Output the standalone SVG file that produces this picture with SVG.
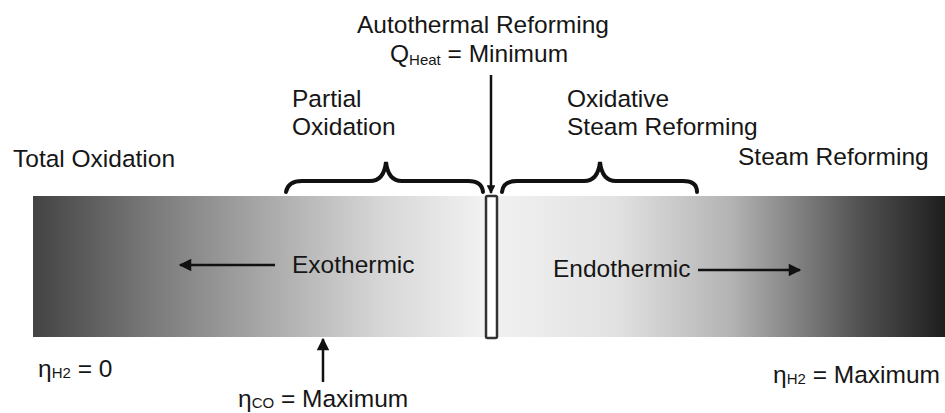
<svg xmlns="http://www.w3.org/2000/svg" width="945" height="413" viewBox="0 0 945 413">
  <defs>
    <linearGradient id="bar" x1="0" y1="0" x2="1" y2="0">
      <stop offset="0" stop-color="#434343"/>
      <stop offset="0.123" stop-color="#777777"/>
      <stop offset="0.253" stop-color="#a8a8a8"/>
      <stop offset="0.38" stop-color="#d6d6d6"/>
      <stop offset="0.497" stop-color="#f2f2f2"/>
      <stop offset="0.638" stop-color="#e2e2e2"/>
      <stop offset="0.766" stop-color="#b3b3b3"/>
      <stop offset="0.83" stop-color="#878787"/>
      <stop offset="0.906" stop-color="#525252"/>
      <stop offset="1" stop-color="#1e1e1e"/>
    </linearGradient>
    <marker id="ah" viewBox="0 0 10 10" refX="9" refY="5" markerWidth="6" markerHeight="5" orient="auto" markerUnits="strokeWidth">
      <path d="M0,0 L10,5 L0,10 Z" fill="#111"/>
    </marker>
    <marker id="ahs" viewBox="0 0 10 10" refX="9" refY="5" markerWidth="3.5" markerHeight="3.5" orient="auto" markerUnits="strokeWidth">
      <path d="M0,0 L10,5 L0,10 Z" fill="#111"/>
    </marker>
  </defs>
  <style>
    text { font-family: "Liberation Sans", Arial, sans-serif; fill: #161616; font-size: 24.5px; }
    .sub { font-size: 15px; }
    .ln { stroke: #111; stroke-width: 2.5; fill: none; }
    .brace { stroke: #111; stroke-width: 4; fill: none; stroke-linecap: round; }
  </style>
  <rect width="945" height="413" fill="#ffffff"/>

  <g id="bar-node">
    <rect x="33" y="196" width="912" height="141" fill="url(#bar)"/>
  </g>

  <g id="autothermal-rod">
    <rect x="486" y="196" width="11" height="142" rx="1.5" fill="#ffffff" stroke="#333" stroke-width="2.5"/>
  </g>

  <g id="labels">
    <text x="357" y="33">Autothermal Reforming</text>
    <text x="390" y="62">Q<tspan class="sub" dy="3">Heat</tspan><tspan dy="-3"> = Minimum</tspan></text>
    <text x="292" y="107">Partial</text>
    <text x="292" y="135">Oxidation</text>
    <text x="567" y="107">Oxidative</text>
    <text x="567" y="135">Steam Reforming</text>
    <text x="13" y="167">Total Oxidation</text>
    <text x="738" y="165">Steam Reforming</text>
    <text x="292" y="273">Exothermic</text>
    <text x="553" y="277">Endothermic</text>
    <text x="38" y="377">η<tspan class="sub" dy="1">H2</tspan><tspan dy="-1"> = 0</tspan></text>
    <text x="238" y="407">η<tspan class="sub" dy="1">CO</tspan><tspan dy="-1"> = Maximum</tspan></text>
    <text x="773" y="383">η<tspan class="sub" dy="1">H2</tspan><tspan dy="-1"> = Maximum</tspan></text>
  </g>

  <g id="connectors">
    <line class="ln" x1="491" y1="75" x2="491" y2="193" stroke-width="3.5" marker-end="url(#ahs)"/>
    <path class="brace" d="M286,192 Q288,181 302,181 L370,181 Q384,181 386,162 Q388,181 402,181 L468,181 Q482,181 483,192"/>
    <path class="brace" d="M502,192 Q503,181 517,181 L584,181 Q598,181 600,162 Q602,181 616,181 L683,181 Q697,181 697,192"/>
    <line class="ln" x1="275" y1="265" x2="180" y2="265" marker-end="url(#ah)"/>
    <line class="ln" x1="698" y1="270" x2="800" y2="270" marker-end="url(#ah)"/>
    <line class="ln" x1="323" y1="382" x2="323" y2="339" marker-end="url(#ah)"/>
  </g>
</svg>
